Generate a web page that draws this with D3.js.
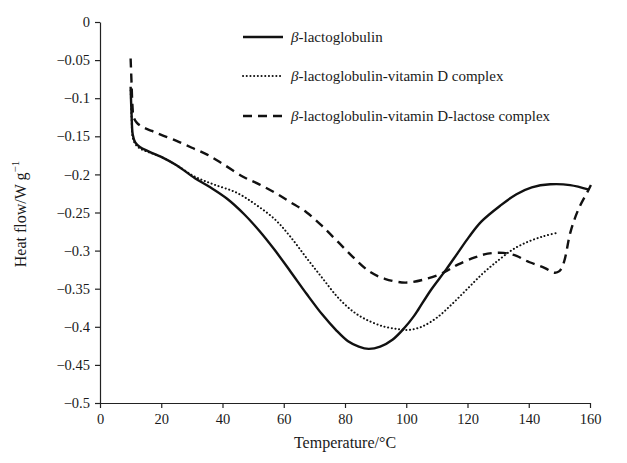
<!DOCTYPE html>
<html><head><meta charset="utf-8">
<script src="https://cdn.jsdelivr.net/npm/d3@7"></script>
<style>
body{margin:0;background:#fff;}
text{font-family:"Liberation Serif","Times New Roman",serif;fill:#1a1a1a;}
</style></head>
<body><svg id="c" width="627" height="463"></svg>
<script>
const xTicks = [0,20,40,60,80,100,120,140,160];
const yTicks = [0,-0.05,-0.1,-0.15,-0.2,-0.25,-0.3,-0.35,-0.4,-0.45,-0.5];
const yTickLabels = ["0","\u22120.05","\u22120.1","\u22120.15","\u22120.2","\u22120.25","\u22120.3","\u22120.35","\u22120.4","\u22120.45","\u22120.5"];
const seriesNames = ["-lactoglobulin","-lactoglobulin-vitamin D complex","-lactoglobulin-vitamin D-lactose complex"];

const blgT = [10,10.3,10.7,11.5,13,16,20,25,31,36,41.5,47,52,57,62.3,67.5,72.6,77,81,84.5,87.7,91.5,95.5,99.5,102.5,104,108,113,117,120.5,124.5,130.7,136,141,147,153.5,159.7];
const blgV = [-0.085,-0.12,-0.148,-0.158,-0.164,-0.17,-0.177,-0.188,-0.205,-0.217,-0.232,-0.252,-0.274,-0.299,-0.328,-0.357,-0.384,-0.404,-0.419,-0.426,-0.429,-0.426,-0.417,-0.401,-0.386,-0.377,-0.352,-0.325,-0.302,-0.282,-0.262,-0.241,-0.226,-0.217,-0.213,-0.214,-0.220];

const vitT = [10,10.3,10.7,11.5,13,16,20,25,31,37,44.6,51,57.1,62,67.5,72.6,77.8,83,88.2,93,97.5,101,105,110,115,120,125,130,135,140,145,148.9];
const vitV = [-0.09,-0.125,-0.152,-0.16,-0.166,-0.171,-0.177,-0.188,-0.203,-0.213,-0.224,-0.24,-0.259,-0.281,-0.31,-0.336,-0.362,-0.381,-0.393,-0.4,-0.403,-0.404,-0.4,-0.388,-0.37,-0.35,-0.33,-0.313,-0.298,-0.288,-0.281,-0.277];

const lacT = [10,10.3,10.6,11,12,14,17,20,25,30,35,40,46.7,52,57.1,62,67.5,72.6,77.8,83,88.2,93,99.6,105.8,112.1,117,122.4,126.6,131.8,136,139,145.3,148.4,150,151.5,153.6,156.2,159.3,160.3];
const lacV = [-0.048,-0.08,-0.11,-0.125,-0.132,-0.138,-0.143,-0.148,-0.156,-0.165,-0.174,-0.186,-0.203,-0.213,-0.224,-0.236,-0.25,-0.268,-0.289,-0.31,-0.328,-0.337,-0.342,-0.338,-0.329,-0.318,-0.309,-0.304,-0.303,-0.307,-0.313,-0.323,-0.329,-0.327,-0.315,-0.276,-0.246,-0.222,-0.214];

const W=627,H=463, m={l:100,r:37,t:22,b:60};
const svg=d3.select("#c");
const x=d3.scaleLinear().domain([0,160]).range([m.l,W-m.r]);
const y=d3.scaleLinear().domain([-0.5,0]).range([H-m.b,m.t]);

const xa=svg.append("g").attr("transform",`translate(0,${H-m.b})`)
  .call(d3.axisBottom(x).tickValues(xTicks).tickSize(5).tickSizeOuter(0).tickPadding(6));
const ya=svg.append("g").attr("transform",`translate(${m.l},0)`)
  .call(d3.axisLeft(y).tickValues(yTicks).tickFormat((d,i)=>yTickLabels[i]).tickSize(5).tickSizeOuter(0).tickPadding(5));
[xa,ya].forEach(g=>{g.selectAll("path,line").attr("stroke","#222").attr("stroke-width",1.2);
  g.selectAll("text").attr("font-size",14.5).attr("fill","#1a1a1a").style("font-family","Liberation Serif");});

svg.append("text").attr("x",(m.l+W-m.r)/2).attr("y",448).attr("text-anchor","middle").attr("font-size",16).text("Temperature/\u00B0C");
const yl=svg.append("text").attr("transform","translate(26,214) rotate(-90)").attr("text-anchor","middle").attr("font-size",16);
yl.append("tspan").text("Heat flow/W g");
yl.append("tspan").attr("dy",-7).attr("font-size",11).text("\u22121");

const line=d3.line().x(d=>x(d[0])).y(d=>y(d[1])).curve(d3.curveCatmullRom.alpha(0.5));
const styles=[{w:2.4,dash:null,cap:"butt"},{w:2,dash:"0.1,3.6",cap:"round"},{w:2.4,dash:"9,6",cap:"butt"}];
const data=[[blgT,blgV],[vitT,vitV],[lacT,lacV]];
data.forEach((s,i)=>{
  const pts=s[0].map((t,j)=>[t,s[1][j]]);
  svg.append("path").datum(pts).attr("d",line).attr("fill","none").attr("stroke","#111")
    .attr("stroke-width",styles[i].w).attr("stroke-dasharray",styles[i].dash).attr("stroke-linecap",styles[i].cap);
});

const ly=[37,76,116];
seriesNames.forEach((n,i)=>{
  svg.append("line").attr("x1",243).attr("x2",283).attr("y1",ly[i]).attr("y2",ly[i]).attr("stroke","#111")
    .attr("stroke-width",styles[i].w).attr("stroke-dasharray",styles[i].dash).attr("stroke-linecap",styles[i].cap);
  const t=svg.append("text").attr("x",291).attr("y",ly[i]+5).attr("font-size",15);
  t.append("tspan").attr("font-style","italic").text("\u03B2");
  t.append("tspan").text(n);
});
</script></body></html>
